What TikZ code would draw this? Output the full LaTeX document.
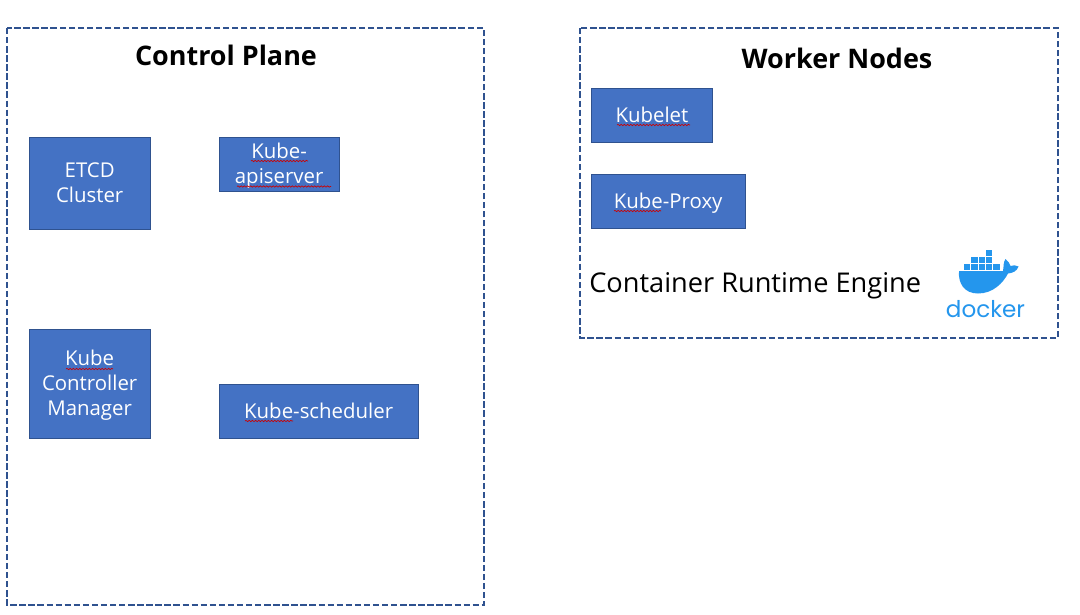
\documentclass[tikz,border=0pt]{standalone}
\usepackage{fontspec}
\setmainfont{Open Sans}
\newfontfamily\dockerfont{Poppins}
\usetikzlibrary{decorations.pathmorphing}
\definecolor{boxfill}{HTML}{4472C4}
\definecolor{boxline}{HTML}{2F528F}
\definecolor{dockerblue}{HTML}{2496ED}
\newcommand{\fs}{\rule{0pt}{14.5pt}}
\newcommand{\ls}{\rule[-3.8pt]{0pt}{0pt}}
\tikzset{
  x=0.75pt,y=-0.75pt,
  frame/.style={draw=boxline,line width=2pt,dash pattern=on 4.8pt off 2pt},
  kubebox/.style={draw=boxline,line width=0.6pt,fill=boxfill,text=white,font=\fontsize{15.3}{18.5}\selectfont,align=center,inner sep=0pt,anchor=north west},
  heading/.style={font=\fontsize{20.2}{24}\selectfont\bfseries,text=black,inner sep=0pt},
  plain/.style={font=\fontsize{20.4}{24}\selectfont,text=black,inner sep=0pt},
  squiggle/.style={draw=red!80!black,line width=0.5pt,decorate,decoration={snake,amplitude=0.5pt,segment length=2.4pt}},
  crate/.style={fill=dockerblue,draw=none},
}
\newcommand{\kubebox}[6]{\node[kubebox,minimum width=#4*0.75pt,minimum height=#5*0.75pt] (#1) at (#2,#3) {#6};}
\begin{document}
\begin{tikzpicture}
\useasboundingbox (0,0) rectangle (1080,614);
\fill[white] (0,0) rectangle (1080,614);
\draw[frame] (7,28) rectangle (484,605);
\draw[frame] (580,28) rectangle (1058,338);
\node[heading] (cp) at (226,55.5) {Control Plane};
\node[heading] (wn) at (837,58.5) {Worker Nodes};
\kubebox{etcd}{29}{136.5}{120.5}{92}{\fs ETCD\\Cluster\ls}
\kubebox{api}{218.5}{136.5}{120.5}{54}{\fs Kube-\\apiserver\ls}
\kubebox{ctrl}{29}{328.5}{120.5}{109}{\fs Kube\\Controller\\Manager\ls}
\kubebox{sched}{218.5}{383.5}{199.5}{54}{\fs Kube-scheduler\ls}
\kubebox{kubelet}{591}{87.5}{121}{54}{\fs Kubelet\ls}
\kubebox{proxy}{591}{174}{153.5}{54}{\fs Kube-Proxy\ls}
\node[plain,anchor=west] (cre) at (589,285.5) {Container Runtime Engine};
\draw[squiggle] (251,161) -- (308,161);
\draw[squiggle] (237,186.5) -- (331,186.5);
\draw[squiggle] (66,369) -- (113,369);
\draw[squiggle] (245,421) -- (293,421);
\draw[squiggle] (617,125) -- (690,125);
\draw[squiggle] (614,211) -- (661,211);
% docker logo
\foreach \cx/\cy in {964/264,971.3/264,978.6/264,986/264,993.3/264,971.3/257,978.6/257,986/257,986/250}
  \fill[crate] (\cx,\cy) rectangle +(6.2,6.2);
\fill[dockerblue] (959,271) -- (1003,271)
  .. controls (1004,265) and (1003,263) .. (1005.5,259)
  .. controls (1008,261) and (1009.5,263) .. (1010.5,266)
  .. controls (1013,265) and (1016,265) .. (1018.5,266.5)
  .. controls (1017,271) and (1013,273) .. (1008,273.5)
  .. controls (1003,283) and (993,293.5) .. (978,293.5)
  .. controls (964,293.5) and (958,283) .. (959,271) -- cycle;
\node[inner sep=0pt,text=dockerblue,font=\fontsize{17.3}{20}\dockerfont] (dk) at (985.5,309) {docker};
\end{tikzpicture}
\end{document}
